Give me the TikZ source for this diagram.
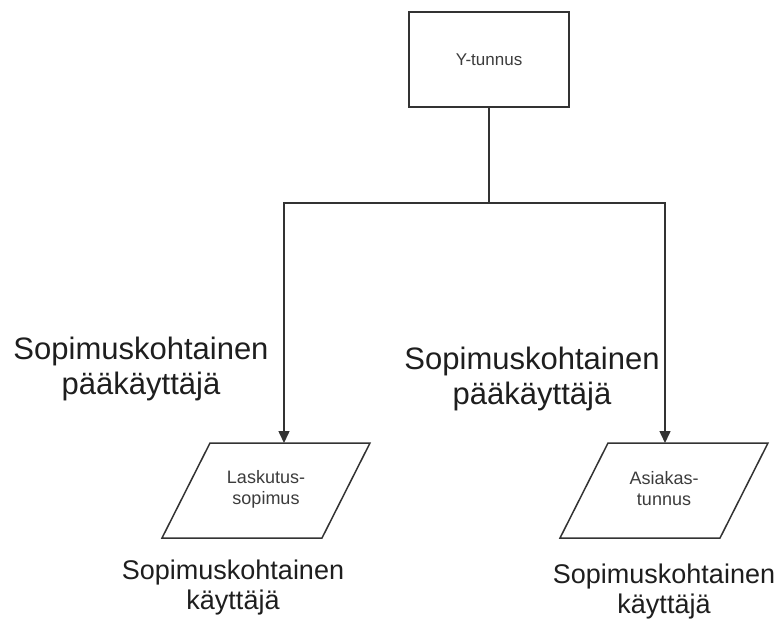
\documentclass[tikz,border=0pt]{standalone}
\usepackage{fontspec}
\setmainfont{Liberation Sans}
\usetikzlibrary{arrows.meta,calc}
\definecolor{linec}{HTML}{333333}
\definecolor{bigtxt}{HTML}{1E1E1E}
\definecolor{smalltxt}{HTML}{3C3C3C}
\tikzset{
  conn/.style={draw=linec, line width=1.5pt},
  arr/.style={conn, -{Triangle[length=12pt,width=11pt]}},
  boxnode/.style={draw=linec, line width=1.5pt, minimum width=160pt, minimum height=95pt, inner sep=0pt, font=\fontsize{17}{20}\selectfont, text=smalltxt},
  intext/.style={align=center, inner sep=0pt, font=\fontsize{18}{21}\selectfont, text=smalltxt},
  biglabel/.style={align=center, inner sep=0pt, font=\fontsize{31}{35}\selectfont, text=bigtxt},
  midlabel/.style={align=center, inner sep=0pt, font=\fontsize{27}{30}\selectfont, text=bigtxt}
}
\begin{document}
\begin{tikzpicture}[x=1pt,y=-1pt]
\useasboundingbox (0,0) rectangle (778,619);
\fill[white] (0,0) rectangle (778,619);
% top box
\node[boxnode] (yt) at (489,59.5) {Y-tunnus};
% parallelogram texts
\node[intext] (lask) at (266,489) {Laskutus-\\sopimus};
\node[intext] (asia) at (664,489) {Asiakas-\\tunnus};
% parallelogram outlines
\draw[conn, line join=miter] ($(lask)+(-56,-46)$) -- ($(lask)+(104,-46)$) -- ($(lask)+(56,49)$) -- ($(lask)+(-104,49)$) -- cycle;
\draw[conn, line join=miter] ($(asia)+(-56,-46)$) -- ($(asia)+(104,-46)$) -- ($(asia)+(56,49)$) -- ($(asia)+(-104,49)$) -- cycle;
% connectors
\coordinate (j) at (489,203);
\coordinate (t1) at (284,443);
\coordinate (t2) at (665,443);
\draw[conn] (yt.south) -- (j);
\draw[arr] (j) -| (t1);
\draw[arr] (j) -| (t2);
% labels
\node[biglabel] (lbl1) at (141,369) {Sopimuskohtainen\\pääkäyttäjä};
\node[biglabel] (lbl2) at (532,379) {Sopimuskohtainen\\pääkäyttäjä};
\node[midlabel] (lbl3) at (233,588) {Sopimuskohtainen\\käyttäjä};
\node[midlabel] (lbl4) at (664,592) {Sopimuskohtainen\\käyttäjä};
\end{tikzpicture}
\end{document}
